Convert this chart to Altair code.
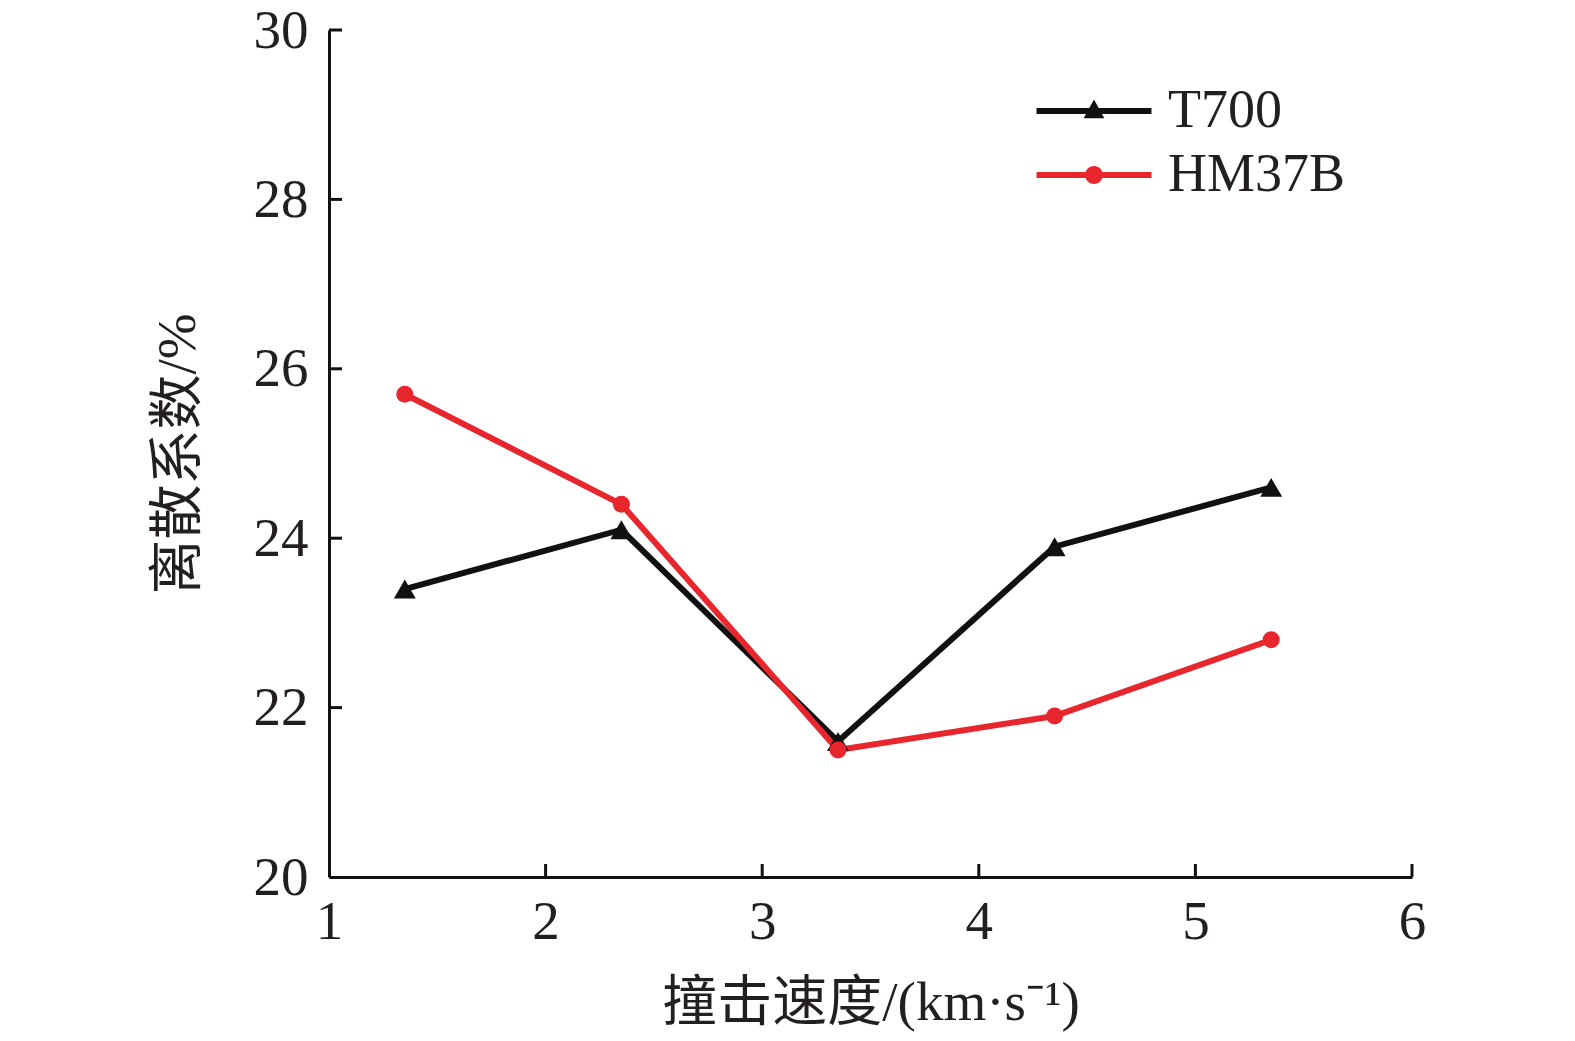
import altair as alt
import pandas as pd

# ---- data ----
speed = [1.35, 2.35, 3.35, 4.35, 5.35]
t700 = [23.4, 24.1, 21.6, 23.9, 24.6]
hm37b = [25.7, 24.4, 21.5, 21.9, 22.8]
series_names = ["T700", "HM37B"]
series_colors = ["#111111", "#e8262d"]
x_ticks = [1, 2, 3, 4, 5, 6]
y_ticks = [20, 22, 24, 26, 28, 30]

rows = []
for s, vals in zip(series_names, [t700, hm37b]):
    for x, v in zip(speed, vals):
        rows.append({"series": s, "speed": x, "value": v})
df = pd.DataFrame(rows)

W, H = 1083, 847
SERIF = "Liberation Serif, Times New Roman, Noto Sans CJK SC"
TXT = "#231f20"

xscale = alt.Scale(domain=[1, 6], nice=False)
yscale = alt.Scale(domain=[20, 30], nice=False, zero=False)

xenc = alt.X("speed:Q", scale=xscale, axis=alt.Axis(
    values=x_ticks, format="d", title="撞击速度/(km·s⁻¹)", grid=False,
    ticks=False, tickSize=0, labelFontSize=55, labelFont=SERIF, labelColor=TXT,
    labelPadding=18, labelFlush=False, domainColor="#111111", domainWidth=3,
    titleFont=SERIF, titleFontSize=55, titleFontWeight="normal", titleColor=TXT,
    titleX=W / 2, titleY=125, titleBaseline="middle", titleAnchor="middle"))
yenc = alt.Y("value:Q", scale=yscale, axis=alt.Axis(
    values=y_ticks, format="d", title="离散系数/%", grid=False,
    ticks=False, tickSize=0, labelFontSize=55, labelFont=SERIF, labelColor=TXT,
    labelPadding=21, labelFlush=False, domainColor="#111111", domainWidth=3,
    titleFont=SERIF, titleFontSize=55, titleFontWeight="normal", titleColor=TXT,
    titleX=-152, titleY=H / 2, titleAngle=270, titleBaseline="middle",
    titleAlign="center"))

cscale = alt.Scale(domain=series_names, range=series_colors)

base = alt.Chart(df)

lines = base.mark_line(strokeWidth=6).encode(
    x=xenc, y=yenc,
    color=alt.Color("series:N", scale=cscale, legend=None),
    detail="series:N",
)
points = base.mark_point(filled=True, opacity=1).encode(
    x="speed:Q", y="value:Q",
    color=alt.Color("series:N", scale=cscale, legend=None),
    shape=alt.Shape("series:N", scale=alt.Scale(domain=series_names,
                    range=["triangle-up", "circle"]), legend=None),
    size=alt.Size("series:N", scale=alt.Scale(domain=series_names,
                  range=[480, 290]), legend=None),
)

# inward ticks
ytick_df = pd.DataFrame({"v": y_ticks[1:]})
xtick_df = pd.DataFrame({"v": x_ticks[1:]})
yticks = alt.Chart(ytick_df).mark_rule(color="#111111", strokeWidth=3).encode(
    y=alt.Y("v:Q", scale=yscale), x=alt.value(0), x2=alt.value(13))
xticks = alt.Chart(xtick_df).mark_rule(color="#111111", strokeWidth=3).encode(
    x=alt.X("v:Q", scale=xscale), y=alt.value(H), y2=alt.value(H - 13))

# legend symbols: line with marker (custom paths)
line_part = "M-4,-0.21L4,-0.21L4,0.21L-4,0.21Z"
tri_part = "M0,-0.8L0.72,0.5L-0.72,0.5Z"
circ_part = "M-0.62,0A0.62,0.62 0 1,1 0.62,0A0.62,0.62 0 1,1 -0.62,0Z"
legend_layer = base.mark_point(filled=True, opacity=0).encode(
    x="speed:Q", y="value:Q",
    color=alt.Color("series:N", scale=alt.Scale(domain=series_names, range=series_colors)),
    shape=alt.Shape("series:N", scale=alt.Scale(domain=series_names,
                    range=[line_part + tri_part, line_part + circ_part]),
                    legend=alt.Legend(
                        title=None, orient="none", legendX=738, legendY=54,
                        symbolSize=826, symbolStrokeWidth=0, symbolOpacity=1,
                        labelFontSize=54, labelFont=SERIF, labelColor=TXT,
                        labelOffset=47, rowPadding=10, padding=0,
                        labelLimit=400)),
)

chart = alt.layer(lines, points, yticks, xticks, legend_layer).resolve_scale(
    color="independent", shape="independent"
).properties(
    width=W, height=H,
    background="white",
    autosize=alt.AutoSizeParams(type="none"),
    padding={"left": 321, "top": 22, "right": 155, "bottom": 156},
).configure_view(stroke=None)

chart.save("out.html", embed_options={"renderer": "svg", "actions": False})
